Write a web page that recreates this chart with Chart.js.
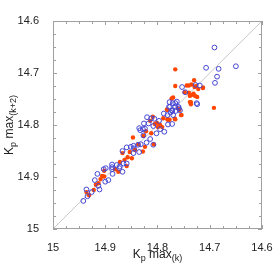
<!DOCTYPE html>
<html><head><meta charset="utf-8">
<script src="https://cdn.jsdelivr.net/npm/chart.js@4"></script>
<style>html,body{margin:0;padding:0;background:#fff}#wrap{width:280px;height:280px}</style>
</head><body><div id="wrap"><canvas id="c" width="280" height="280"></canvas></div>
<script>
const tickLabels = ["15","14.9","14.8","14.7","14.6"];
const blueX = [14.691,14.707,14.683,14.650,14.686,14.690,14.753,14.719,14.724,14.777,14.771,14.766,14.778,14.772,14.759,14.757,14.770,14.788,14.780,14.772,14.812,14.806,14.797,14.808,14.817,14.824,14.795,14.787,14.763,14.765,14.775,14.820,14.826,14.835,14.828,14.802,14.821,14.808,14.814,14.845,14.833,14.827,14.837,14.832,14.846,14.851,14.859,14.867,14.846,14.835,14.887,14.878,14.872,14.887,14.867,14.859,14.899,14.942,14.934,14.926,14.913,14.920,14.900,14.915,14.886,14.887,14.873,14.865,14.903,14.894,14.911,14.936,14.747,14.727,14.776,14.766,14.772,14.760,14.781,14.725];
const blueY = [14.651,14.690,14.692,14.687,14.707,14.719,14.727,14.724,14.760,14.756,14.758,14.758,14.765,14.772,14.768,14.772,14.781,14.778,14.799,14.798,14.787,14.788,14.792,14.802,14.797,14.807,14.808,14.813,14.755,14.773,14.776,14.785,14.797,14.806,14.808,14.816,14.834,14.838,14.827,14.845,14.810,14.820,14.838,14.837,14.840,14.842,14.843,14.850,14.854,14.852,14.876,14.877,14.880,14.885,14.890,14.874,14.883,14.946,14.937,14.929,14.917,14.906,14.909,14.894,14.894,14.881,14.883,14.874,14.885,14.906,14.924,14.924,14.737,14.723,14.765,14.765,14.773,14.765,14.781,14.758];
const redX = [14.766,14.766,14.744,14.730,14.735,14.726,14.722,14.713,14.748,14.740,14.738,14.731,14.724,14.738,14.736,14.773,14.692,14.755,14.782,14.761,14.780,14.767,14.809,14.740,14.729,14.713,14.734,14.728,14.736,14.770,14.758,14.781,14.754,14.766,14.781,14.801,14.795,14.791,14.799,14.805,14.812,14.777,14.837,14.824,14.807,14.827,14.847,14.867,14.853,14.843,14.828,14.849,14.863,14.872,14.881,14.875,14.857,14.902,14.936,14.922,14.918,14.913,14.909,14.902,14.859,14.906,14.931,14.822,14.814,14.789];
const redY = [14.693,14.725,14.724,14.714,14.722,14.725,14.731,14.728,14.737,14.738,14.744,14.740,14.746,14.756,14.760,14.749,14.767,14.781,14.770,14.768,14.790,14.788,14.784,14.724,14.727,14.729,14.742,14.744,14.756,14.747,14.771,14.771,14.781,14.789,14.789,14.796,14.800,14.804,14.804,14.798,14.816,14.790,14.837,14.842,14.837,14.821,14.824,14.854,14.852,14.848,14.851,14.864,14.867,14.871,14.885,14.890,14.862,14.888,14.929,14.925,14.915,14.912,14.904,14.899,14.879,14.898,14.935,14.812,14.792,14.787];
const diagX = [15, 14.6];
const diagY = [15, 14.6];

const toPts = (xs, ys) => xs.map((x, i) => ({x: x, y: ys[i]}));

function isMajor(v){ return Math.abs(v*10 - Math.round(v*10)) < 1e-6; }
function fmt(v){ return String(Number(v.toFixed(1))); }

const framePlugin = {
  id: 'frame',
  afterDatasetsDraw(chart){
    const ctx = chart.ctx, a = chart.chartArea;
    const xs = chart.scales.x, ys = chart.scales.y;
    ctx.save();
    ctx.strokeStyle = '#a0a0a0';
    ctx.lineWidth = 1;
    ctx.strokeRect(Math.round(a.left)+0.5, Math.round(a.top)+0.5, Math.round(a.right-a.left)-1, Math.round(a.bottom-a.top)-1);
    ctx.beginPath();
    xs.ticks.forEach(t => {
      const p = Math.round(xs.getPixelForValue(t.value)) + 0.5;
      const L = isMajor(t.value) ? 4 : 3;
      ctx.moveTo(p, a.bottom); ctx.lineTo(p, a.bottom - L);
      ctx.moveTo(p, a.top); ctx.lineTo(p, a.top + L);
    });
    ys.ticks.forEach(t => {
      const p = Math.round(ys.getPixelForValue(t.value)) + 0.5;
      const L = isMajor(t.value) ? 4 : 3;
      ctx.moveTo(a.left, p); ctx.lineTo(a.left + L, p);
      ctx.moveTo(a.right, p); ctx.lineTo(a.right - L, p);
    });
    ctx.stroke();
    // axis titles with subscripts
    ctx.fillStyle = '#222';
    function drawSub(parts, x, y){
      let w = 0;
      parts.forEach(p => { ctx.font = (p.sub ? '9px' : '12px') + ' "Liberation Sans", Arial, sans-serif'; w += ctx.measureText(p.t).width; });
      let cx = x - w/2;
      parts.forEach(p => {
        ctx.font = (p.sub ? '9px' : '12px') + ' "Liberation Sans", Arial, sans-serif';
        ctx.textBaseline = 'alphabetic';
        ctx.textAlign = 'left';
        ctx.fillText(p.t, cx, y + (p.sub ? 3 : 0));
        cx += ctx.measureText(p.t).width;
      });
    }
    drawSub([{t:'K'},{t:'p',sub:true},{t:' max'},{t:'(k)',sub:true}], (a.left+a.right)/2, 258);
    ctx.save();
    ctx.translate(13, (a.top+a.bottom)/2);
    ctx.rotate(-Math.PI/2);
    drawSub([{t:'K'},{t:'p',sub:true},{t:' max'},{t:'(k+2)',sub:true}], 0, 0);
    ctx.restore();
    ctx.restore();
  }
};

new Chart(document.getElementById('c'), {
  type: 'scatter',
  data: {
    datasets: [
      { label: 'blue', data: toPts(blueX, blueY), pointStyle: 'circle', pointRadius: 2.4, borderWidth: 1,
        borderColor: 'rgb(70,70,210)', backgroundColor: 'rgba(0,0,0,0)' },
      { label: 'red', data: toPts(redX, redY), pointStyle: 'circle', pointRadius: 2.2, borderWidth: 0,
        borderColor: 'rgb(255,69,0)', backgroundColor: 'rgb(255,69,0)' },
      { type: 'line', label: 'diag', data: toPts(diagX, diagY), borderColor: '#c8c8c8', borderWidth: 1,
        pointRadius: 0, fill: false }
    ]
  },
  options: {
    responsive: false, animation: false, devicePixelRatio: 1,
    layout: { padding: { top: 21, right: 18, left: 0, bottom: 0 } },
    plugins: { legend: { display: false }, tooltip: { enabled: false } },
    scales: {
      x: {
        type: 'linear', reverse: true, min: 14.6, max: 15,
        grid: { display: false }, border: { display: false },
        afterFit(s){ s.height = 51; },
        ticks: { stepSize: 0.025, autoSkip: false, maxRotation: 0, padding: 4, color: '#222',
          font: { size: 11, family: '"Liberation Sans", Arial, sans-serif' },
          callback: v => isMajor(v) ? fmt(v) : '' }
      },
      y: {
        type: 'linear', reverse: true, min: 14.6, max: 15,
        grid: { display: false }, border: { display: false },
        afterFit(s){ s.width = 53; },
        ticks: { stepSize: 0.025, autoSkip: false, padding: 6, color: '#222',
          font: { size: 11, family: '"Liberation Sans", Arial, sans-serif' },
          callback: v => isMajor(v) ? fmt(v) : '' }
      }
    }
  },
  plugins: [framePlugin]
});
</script></body></html>
